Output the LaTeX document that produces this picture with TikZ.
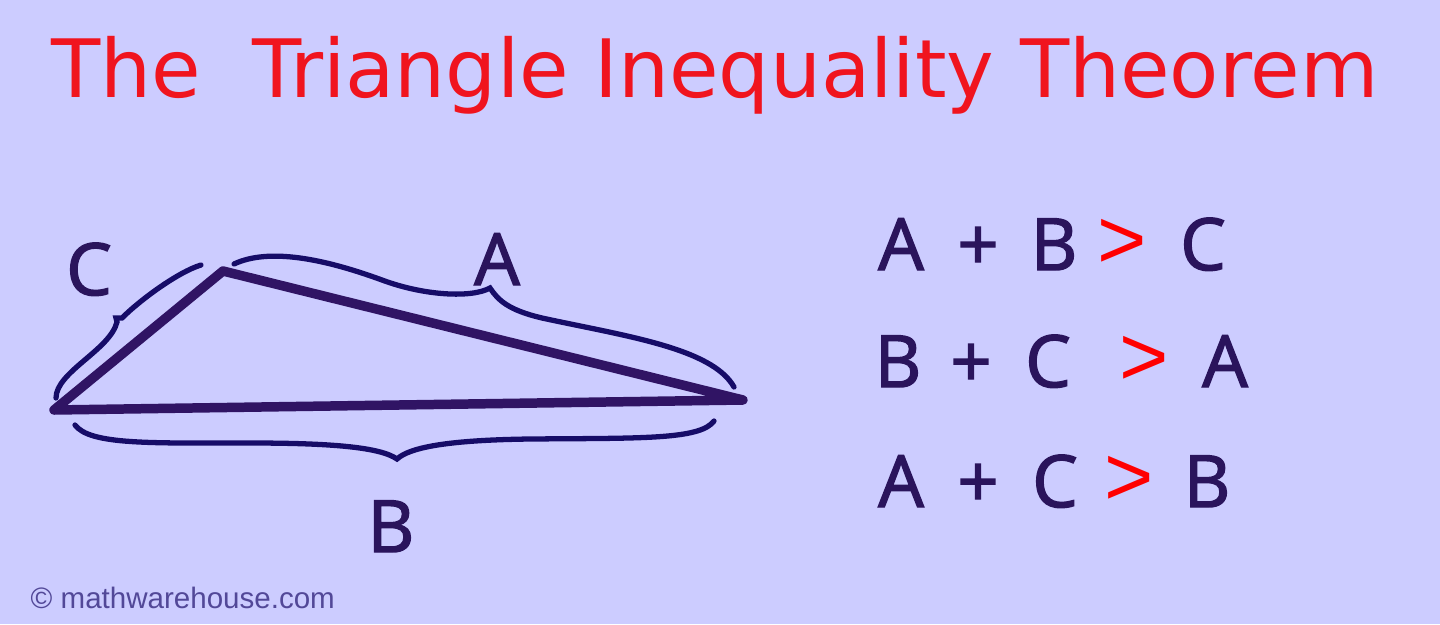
\documentclass[tikz,border=0pt]{standalone}
\usepackage{fontspec}
\newfontfamily\titlefont{DejaVu Sans}
\newfontfamily\eqfont{Open Sans}[BoldFont={Open Sans}, BoldFeatures={FakeBold=2}]
\newfontfamily\signfont{Liberation Sans}
\definecolor{bgcol}{RGB}{204,204,255}
\definecolor{titlered}{RGB}{240,20,30}
\definecolor{inkcol}{RGB}{42,20,92}
\definecolor{edgecol}{RGB}{48,20,100}
\definecolor{bracecol}{RGB}{22,12,104}
\definecolor{markcol}{RGB}{82,72,152}
\tikzset{
  letter/.style={inner sep=0pt, anchor=base, text=inkcol, font=\eqfont\bfseries\fontsize{20.5}{24}\selectfont},
  gtsign/.style={inner sep=0pt, anchor=base, text=red, font=\signfont\fontsize{24}{28}\selectfont},
  side/.style={draw=edgecol, line width=2.7pt, line join=round},
  curly/.style={draw=bracecol, line width=1.5pt, line cap=round}
}
\begin{document}
\begin{tikzpicture}[x=0.01cm,y=-0.01cm]
    % Background
    \fill[bgcol] (0,0) rectangle (1440,624);
    \useasboundingbox (0,0) rectangle (1440,624);

    % Title
    \node[inner sep=0pt, anchor=base west, text=titlered, font=\titlefont\fontsize{22.9}{26}\selectfont]
        (title) at (51,97) {The\ \ Triangle Inequality Theorem};

    % Triangle
    \coordinate (left) at (54,410);
    \coordinate (top) at (223,271);
    \coordinate (right) at (743,400);
    \draw[side] (left) -- (top) -- (right) -- cycle;

    % Braces
    \draw[curly] (56,398) .. controls (56,372) and (110,350) .. (117,322)
        -- (116,318) -- (122,318)
        .. controls (140,300) and (178,272) .. (201,265);
    \draw[curly] (234,264) .. controls (268,248) and (322,258) .. (382,280)
        .. controls (425,296) and (472,298) .. (490,288)
        .. controls (498,300) and (508,310) .. (542,318)
        .. controls (625,336) and (712,348) .. (734,387);
    \draw[curly] (75,425) .. controls (90,445) and (150,443) .. (250,443)
        .. controls (330,443) and (380,447) .. (397,459)
        .. controls (410,447) and (450,440) .. (530,439)
        .. controls (640,438) and (700,440) .. (714,421);

    % Side labels
    \node[letter] (labelC) at (89,295) {C};
    \node[letter] (labelA) at (497,285) {A};
    \node[letter] (labelB) at (391,552) {B};

    % Inequalities
    \foreach \x/\t [count=\i] in {901/A, 978/+, 1054/B, 1203/C}
        \node[letter] (rowa\i) at (\x,270) {\t};
    \foreach \x/\t [count=\i] in {898/B, 971/+, 1048/C, 1225/A}
        \node[letter] (rowb\i) at (\x,387) {\t};
    \foreach \x/\t [count=\i] in {901/A, 978/+, 1055/C, 1207/B}
        \node[letter] (rowc\i) at (\x,507) {\t};
    \node[gtsign] (gta) at (1122,268) {>};
    \node[gtsign] (gtb) at (1144,385) {>};
    \node[gtsign] (gtc) at (1129,505) {>};

    % Watermark
    \node[inner sep=0pt, anchor=base west, text=markcol, font=\signfont\fontsize{8.4}{10}\selectfont]
        (mark) at (30,608) {© mathwarehouse.com};
\end{tikzpicture}
\end{document}
